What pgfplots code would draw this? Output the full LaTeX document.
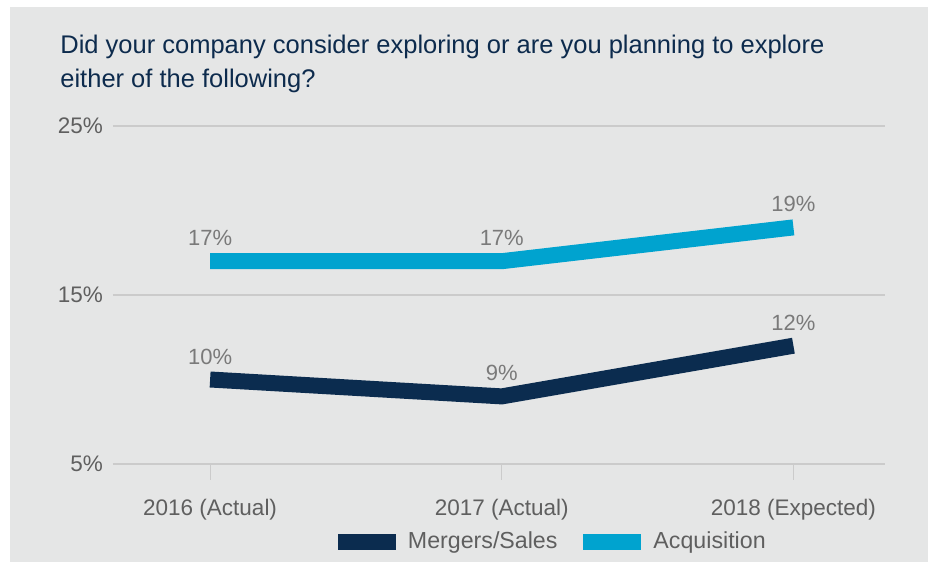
\documentclass[border=0pt]{standalone}
\usepackage{pgfplots}
\pgfplotsset{compat=1.18}
\usepackage{fontspec}
\setmainfont{Liberation Sans}
\definecolor{bg}{HTML}{E5E6E6}
\definecolor{navy}{HTML}{0B2C4F}
\definecolor{cyanc}{HTML}{00A3CF}
\definecolor{titlec}{HTML}{0D2B4D}
\definecolor{tickc}{HTML}{5F5F5F}
\definecolor{labc}{HTML}{7A7A7A}
\definecolor{gridc}{HTML}{CBCBCB}
\begin{document}
\begin{tikzpicture}
\fill[white] (0,0) rectangle (464pt,281pt);
\fill[bg] (5pt,0) rectangle (464pt,277.5pt);
\node[anchor=base west, text=titlec, font=\fontsize{12.75}{16}\selectfont, inner sep=0pt] at (30pt,254pt) {Did your company consider exploring or are you planning to explore};
\node[anchor=base west, text=titlec, font=\fontsize{12.75}{16}\selectfont, inner sep=0pt] at (30pt,237pt) {either of the following?};
\begin{axis}[
  at={(56.5pt,49pt)}, anchor=south west,
  scale only axis, width=386pt, height=169pt,
  xmin=-0.333, xmax=2.314, ymin=5, ymax=25,
  clip=false,
  axis line style={draw=none},
  xtick={0,1,2},
  xticklabels={2016 (Actual),2017 (Actual),2018 (Expected)},
  ytick={5,15,25},
  yticklabels={5\%,15\%,25\%},
  ymajorgrids, grid style={gridc, line width=0.75pt},
  xtick pos=bottom, ytick pos=left,
  tick align=outside,
  major tick length=8pt,
  x tick style={gridc, line width=0.6pt},
  y tick style={draw=none},
  tick label style={text=tickc, font=\fontsize{11.25}{13}\selectfont},
  xticklabel style={yshift=-6pt},
  yticklabel style={xshift=6.5pt},
  /pgf/number format/assume math mode=true,
  nodes near coords={\pgfmathprintnumber{\pgfplotspointmeta}\%},
  nodes near coords style={anchor=center, yshift=11.5pt, text=labc, font=\fontsize{11}{13}\selectfont},
  legend style={at={(0.571,-0.23)}, anchor=center, draw=none, fill=none,
    font=\fontsize{11.6}{13}\selectfont, text=tickc,
    legend columns=2, inner sep=0pt,
    /tikz/every odd column/.append style={column sep=4pt},
    /tikz/every even column/.append style={column sep=11pt}},
  legend image code/.code={\fill[#1, draw=none] (0pt,-4pt) rectangle (29pt,4pt);},
]
\addplot[navy, line width=8pt, line join=miter] coordinates {(0,10) (1,9) (2,12)};
\addlegendentry{Mergers/Sales}
\addplot[cyanc, line width=8pt, line join=miter] coordinates {(0,17) (1,17) (2,19)};
\addlegendentry{Acquisition}
\end{axis}
\end{tikzpicture}
\end{document}
